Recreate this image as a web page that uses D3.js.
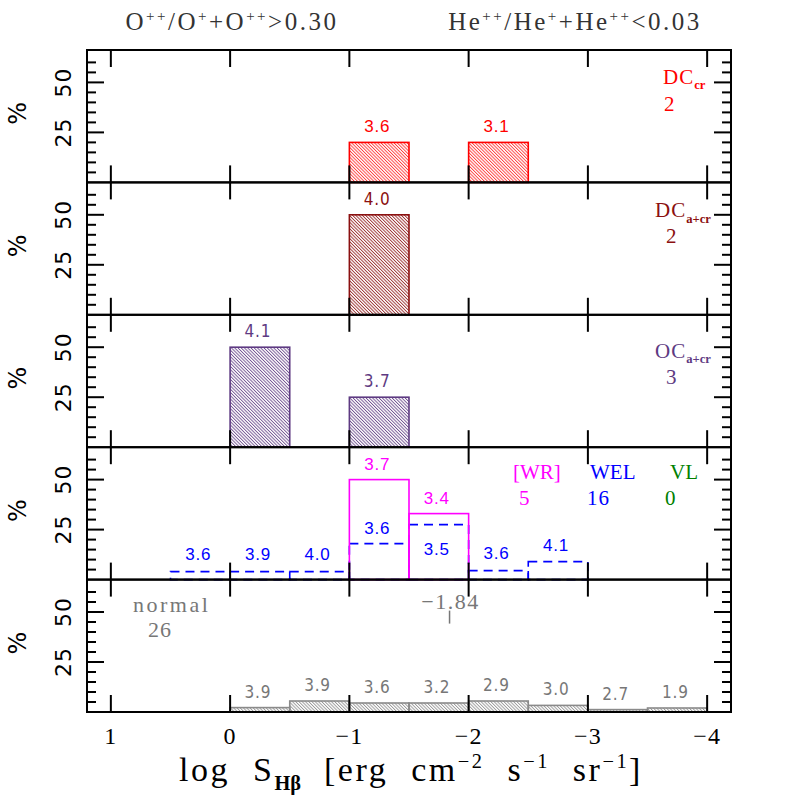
<!DOCTYPE html>
<html>
<head>
<meta charset="utf-8">
<script src="https://cdn.jsdelivr.net/npm/d3@7"></script>
<style>
  body { margin: 0; background: #fff; }
  svg { display: block; }
</style>
</head>
<body>
<div id="chart"></div>
<script>
// --- data (bin left edges, width 0.5 dex, percentages, mean labels)
const xTicks = [1, 0, -1, -2, -3, -4];
const binWidth = 0.5;

const dcCrStart = [-1, -2];
const dcCrPct = [20, 20];
const dcCrLabel = ['3.6', '3.1'];

const dcAcrStart = [-1];
const dcAcrPct = [50];
const dcAcrLabel = ['4.0'];

const ocAcrStart = [0, -1];
const ocAcrPct = [50, 25];
const ocAcrLabel = ['4.1', '3.7'];

const wrStart = [-1, -1.5];
const wrPct = [50, 33];
const wrLabel = ['3.7', '3.4'];

const welStart = [0.5, 0, -0.5, -1, -1.5, -2, -2.5];
const welPct = [4, 4, 4, 18, 27.5, 4.5, 9];
const welLabel = ['3.6', '3.9', '4.0', '3.6', '3.5', '3.6', '4.1'];

const normStart = [0, -0.5, -1, -1.5, -2, -2.5, -3, -3.5];
const normPct = [2.2, 5.5, 4.5, 4.5, 5.5, 3.3, 1.2, 2];
const normLabel = ['3.9', '3.9', '3.6', '3.2', '2.9', '3.0', '2.7', '1.9'];
const normMedian = -1.84;

// --- layout
const W = 797, H = 797;
const plotLeft = 87, plotRight = 731, plotTop = 50, panelH = 132.4, nPanels = 5;
const serif = "'Liberation Serif', 'DejaVu Serif', serif";
const sans = "'Liberation Sans', Arial, sans-serif";
const cond = "'DejaVu Sans Condensed', 'Liberation Sans Narrow', sans-serif";

const x = d3.scaleLinear().domain([1.2, -4.2]).range([plotLeft, plotRight]);

const svg = d3.select('#chart').append('svg')
  .attr('width', W).attr('height', H)
  .attr('viewBox', [0, 0, W, H]);

const defs = svg.append('defs');

// hatch patterns
function hatch(id, color) {
  const p = defs.append('pattern')
    .attr('id', id)
    .attr('patternUnits', 'userSpaceOnUse')
    .attr('width', 2.3).attr('height', 10)
    .attr('patternTransform', 'rotate(-45)');
  p.append('line')
    .attr('x1', 0.5).attr('y1', 0).attr('x2', 0.5).attr('y2', 10)
    .attr('stroke', color).attr('stroke-width', 0.8);
}
hatch('h-red', '#ff2020');
hatch('h-dred', '#8b1010');
hatch('h-purple', '#5e3a82');
hatch('h-gray', '#8a8a8a');

// text with sub/superscripts: parts = [[text, 'n'|'sup'|'sub']]
function rich(sel, parts, size) {
  let shift = 0;
  parts.forEach(([t, k]) => {
    const target = k === 'sup' ? -0.38 * size : k === 'sub' ? 0.25 * size : 0;
    sel.append('tspan')
      .attr('dy', target - shift)
      .attr('font-size', k === 'n' ? size : size * 0.6)
      .text(t);
    shift = target;
  });
}

// --- panels
const panels = d3.range(nPanels).map(i => {
  const y0 = plotTop + i * panelH;
  const y = d3.scaleLinear().domain([0, 66.2]).range([y0 + panelH, y0]);
  return { y0, y };
});

function drawFrame(p) {
  const g = svg.append('g');
  const yb = p.y0 + panelH;
  // y ticks both sides
  const minor = d3.range(5, 65, 5).filter(v => v % 25 !== 0);
  const major = [25, 50];
  const tick = (v, len) => {
    g.append('line').attr('x1', plotLeft).attr('x2', plotLeft + len)
      .attr('y1', p.y(v)).attr('y2', p.y(v));
    g.append('line').attr('x1', plotRight).attr('x2', plotRight - len)
      .attr('y1', p.y(v)).attr('y2', p.y(v));
  };
  minor.forEach(v => tick(v, 9));
  major.forEach(v => tick(v, 17));
  // x ticks top and bottom
  xTicks.forEach(v => {
    g.append('line').attr('x1', x(v)).attr('x2', x(v))
      .attr('y1', p.y0).attr('y2', p.y0 + 17);
    g.append('line').attr('x1', x(v)).attr('x2', x(v))
      .attr('y1', yb).attr('y2', yb - 17);
  });
  g.selectAll('line').attr('stroke', '#000').attr('stroke-width', 2);
  g.append('rect')
    .attr('x', plotLeft).attr('y', p.y0)
    .attr('width', plotRight - plotLeft).attr('height', panelH)
    .attr('fill', 'none').attr('stroke', '#000').attr('stroke-width', 2);

  // y labels
  [25, 50].forEach(v => {
    svg.append('text')
      .attr('transform', `translate(71,${p.y(v)}) rotate(-90)`)
      .attr('text-anchor', 'middle')
      .attr('font-family', "'DejaVu Sans', sans-serif")
      .attr('font-size', 22)
      .attr('letter-spacing', 1)
      .attr('fill', '#000')
      .text(v);
  });
  svg.append('text')
    .attr('transform', `translate(26,${p.y(34.5)}) rotate(-90)`)
    .attr('text-anchor', 'middle')
    .attr('font-family', "'DejaVu Sans', sans-serif")
    .attr('font-size', 24)
    .attr('fill', '#000')
    .text('%');
}

function drawBars(p, starts, pct, fill, stroke, dash) {
  svg.append('g').selectAll('rect')
    .data(starts.map((s, i) => ({ s, v: pct[i] })))
    .join('rect')
      .attr('x', d => x(d.s))
      .attr('y', d => p.y(d.v))
      .attr('width', d => x(d.s - binWidth) - x(d.s))
      .attr('height', d => p.y(0) - p.y(d.v))
      .attr('fill', fill)
      .attr('stroke', stroke)
      .attr('stroke-width', 1.6)
      .attr('stroke-dasharray', dash || null);
}

function drawLabels(p, starts, pct, labels, color, font, size, offsets) {
  svg.append('g').selectAll('text')
    .data(starts.map((s, i) => ({ s, v: pct[i], t: labels[i], o: offsets ? offsets[i] : 10 })))
    .join('text')
      .attr('x', d => x(d.s - binWidth / 2) - 2)
      .attr('y', d => p.y(d.v) - d.o)
      .attr('text-anchor', 'middle')
      .attr('font-family', font)
      .attr('font-size', size)
      .attr('letter-spacing', 0.8)
      .attr('fill', color)
      .text(d => d.t);
}

function panelName(p, name, sub, count, color, xName, xCount, dyName, dyCount) {
  const t = svg.append('text')
    .attr('x', xName).attr('y', p.y0 + dyName)
    .attr('font-family', serif)
    .attr('letter-spacing', 1)
    .attr('fill', color);
  rich(t, [[name, 'n'], [sub, 'sub']], 21);
  t.select('tspan:last-child').attr('font-weight', 'bold').attr('letter-spacing', 0);
  svg.append('text')
    .attr('x', xCount).attr('y', p.y0 + dyCount)
    .attr('font-family', serif).attr('font-size', 21)
    .attr('fill', color)
    .text(count);
}

// panel 1: DC cr
drawBars(panels[0], dcCrStart, dcCrPct, 'url(#h-red)', '#ff0000');
drawLabels(panels[0], dcCrStart, dcCrPct, dcCrLabel, '#ff0000', sans, 17);
panelName(panels[0], 'DC', 'cr', '2', '#ff0000', 663, 664, 34, 61);

// panel 2: DC a+cr
drawBars(panels[1], dcAcrStart, dcAcrPct, 'url(#h-dred)', '#8b1010');
drawLabels(panels[1], dcAcrStart, dcAcrPct, dcAcrLabel, '#8b1010', cond, 17);
panelName(panels[1], 'DC', 'a+cr', '2', '#8b1010', 655, 666, 35, 61);

// panel 3: OC a+cr
drawBars(panels[2], ocAcrStart, ocAcrPct, 'url(#h-purple)', '#5e3a82');
drawLabels(panels[2], ocAcrStart, ocAcrPct, ocAcrLabel, '#5e3a82', cond, 17);
panelName(panels[2], 'OC', 'a+cr', '3', '#5e3a82', 655, 666, 43, 69);

// panel 4: [WR] / WEL / VL
drawBars(panels[3], welStart, welPct, 'none', '#0000ff', '9,6');
drawBars(panels[3], wrStart, wrPct, 'none', '#ff00ff');
drawLabels(panels[3], wrStart, wrPct, wrLabel, '#ff00ff', sans, 17);
drawLabels(panels[3], welStart, welPct, welLabel, '#0000ff', sans, 17,
  [12, 12, 12, 10, -30, 12, 11]);
[['[WR]', '5', '#ff00ff', 513, 519], ['WEL', '16', '#0000ff', 590, 587], ['VL', '0', '#008000', 670, 665]]
  .forEach(([n, c, col, xn, xc]) => {
    svg.append('text').attr('x', xn).attr('y', panels[3].y0 + 32)
      .attr('font-family', serif).attr('font-size', 21).attr('fill', col).text(n);
    svg.append('text').attr('x', xc).attr('y', panels[3].y0 + 58)
      .attr('font-family', serif).attr('font-size', 21).attr('letter-spacing', 1)
      .attr('fill', col).text(c);
  });

// panel 5: normal
drawBars(panels[4], normStart, normPct, 'url(#h-gray)', '#8a8a8a');
drawLabels(panels[4], normStart, normPct, normLabel, '#777', cond, 17);
svg.append('text').attr('x', 133).attr('y', panels[4].y0 + 32)
  .attr('font-family', serif).attr('font-size', 22).attr('letter-spacing', 2.5)
  .attr('fill', '#777').text('normal');
svg.append('text').attr('x', 148).attr('y', panels[4].y0 + 57)
  .attr('font-family', serif).attr('font-size', 22).attr('letter-spacing', 1)
  .attr('fill', '#777').text('26');
svg.append('text').attr('x', x(normMedian) + 1).attr('y', panels[4].y0 + 29)
  .attr('text-anchor', 'middle')
  .attr('font-family', serif).attr('font-size', 22).attr('letter-spacing', 1.5)
  .attr('fill', '#777').text('\u22121.84');
svg.append('line')
  .attr('x1', x(normMedian)).attr('x2', x(normMedian))
  .attr('y1', panels[4].y0 + 31).attr('y2', panels[4].y0 + 44)
  .attr('stroke', '#777').attr('stroke-width', 1.5);

panels.forEach(drawFrame);

// --- x axis labels
const plotBottom = plotTop + nPanels * panelH;
svg.append('g').selectAll('text')
  .data(xTicks)
  .join('text')
    .attr('x', d => x(d))
    .attr('y', plotBottom + 32)
    .attr('text-anchor', 'middle')
    .attr('font-family', serif)
    .attr('font-size', 24)
    .attr('letter-spacing', 1)
    .attr('fill', '#000')
    .text(d => d < 0 ? '\u2212' + (-d) : d);

const xt = svg.append('text')
  .attr('x', 411).attr('y', 781)
  .attr('text-anchor', 'middle')
  .attr('font-family', serif)
  .attr('letter-spacing', 2.5)
  .attr('word-spacing', 12)
  .attr('fill', '#000');
rich(xt, [['log S', 'n'], ['H\u03b2', 'sub'], [' [erg cm', 'n'], ['\u22122', 'sup'],
  [' s', 'n'], ['\u22121', 'sup'], [' sr', 'n'], ['\u22121', 'sup'], [']', 'n']], 34);
xt.select('tspan:nth-child(2)').attr('font-weight', 'bold').attr('letter-spacing', 0);

// --- header
const h1 = svg.append('text').attr('x', 232).attr('y', 30)
  .attr('text-anchor', 'middle').attr('font-family', serif)
  .attr('letter-spacing', 2.5).attr('fill', '#333');
rich(h1, [['O', 'n'], ['++', 'sup'], ['/O', 'n'], ['+', 'sup'], ['+O', 'n'], ['++', 'sup'], ['>0.30', 'n']], 25);
const h2 = svg.append('text').attr('x', 575).attr('y', 30)
  .attr('text-anchor', 'middle').attr('font-family', serif)
  .attr('letter-spacing', 2.5).attr('fill', '#333');
rich(h2, [['He', 'n'], ['++', 'sup'], ['/He', 'n'], ['+', 'sup'], ['+He', 'n'], ['++', 'sup'], ['<0.03', 'n']], 25);
</script>
</body>
</html>
